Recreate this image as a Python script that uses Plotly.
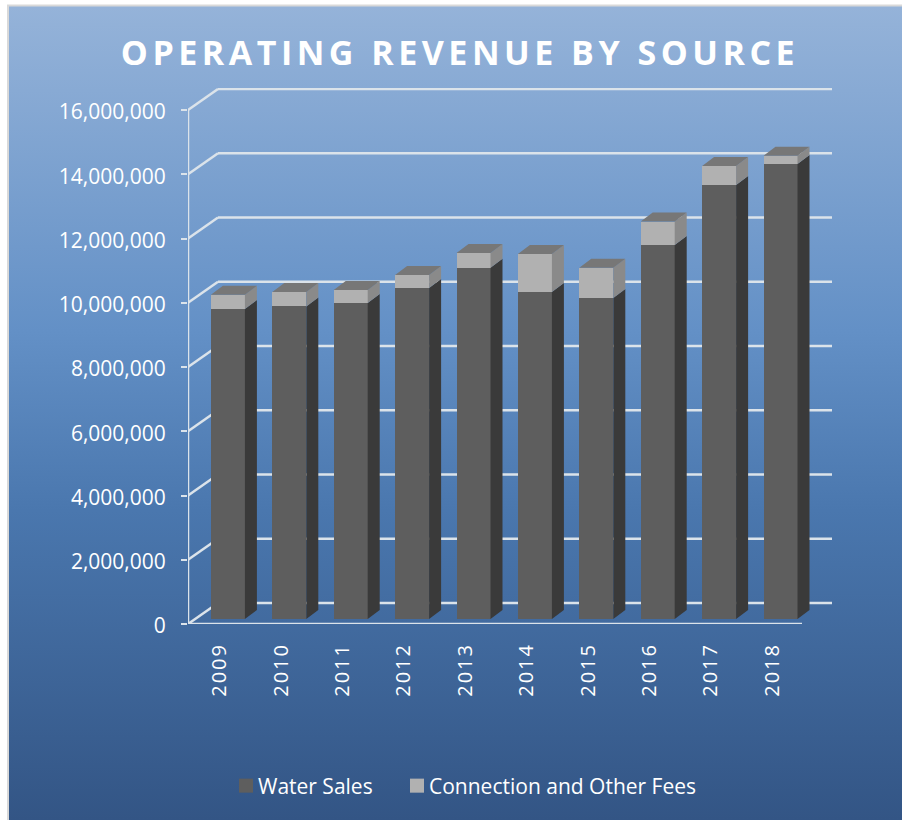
import base64
import plotly.graph_objects as go

years = [2009, 2010, 2011, 2012, 2013, 2014, 2015, 2016, 2017, 2018]
water_sales = [9650000, 9730000, 9840000, 10300000, 10930000, 10180000, 9990000, 11640000, 13510000, 14160000]
other_fees = [440000, 450000, 400000, 410000, 460000, 1180000, 940000, 730000, 590000, 260000]
y_ticks = [0, 2000000, 4000000, 6000000, 8000000, 10000000, 12000000, 14000000, 16000000]

W, H = 902, 820
L, R, T, B = 188, 832, 88, 624
PX_X = 61.4
PX_Y = 514 / 16e6
xr = [2008.5, 2008.5 + (R - L) / PX_X]
yr = [0, (B - T) / PX_Y]
wall_dx, wall_dy = 30 / PX_X, 21 / PX_Y
bar_dx, bar_dy = 12 / PX_X, 9 / PX_Y
bar_base = 5 / PX_Y
bar_w = 34 / PX_X
bar_off = -0.127

LINE = "#dbe3ea"
C_WATER, C_WATER_SIDE = "#5e5e5e", "#3a3a3a"
C_FEE, C_FEE_SIDE, C_TOP = "#b1b1b1", "#8a8a8a", "#777777"

svg = (f'<svg xmlns="http://www.w3.org/2000/svg" width="{W}" height="{H}" preserveAspectRatio="none">'
       '<defs><linearGradient id="g" x1="0" y1="0" x2="0" y2="1">'
       '<stop offset="0" stop-color="#95b3d9"/><stop offset="0.4" stop-color="#6390c6"/>'
       '<stop offset="0.62" stop-color="#4a77ae"/><stop offset="1" stop-color="#335585"/>'
       f'</linearGradient></defs><rect width="{W}" height="{H}" fill="url(#g)"/></svg>')
src = "data:image/svg+xml;base64," + base64.b64encode(svg.encode()).decode()


def polys(rows):
    xs, ys = [], []
    for px, py in rows:
        xs += px + [None]
        ys += py + [None]
    return xs, ys


water_side, fee_side, tops = [], [], []
for yr_, w, f in zip(years, water_sales, other_fees):
    x0 = yr_ + bar_off
    x1 = x0 + bar_w
    y0, y1, y2 = bar_base, bar_base + w, bar_base + w + f
    water_side.append(([x1, x1, x1 + bar_dx, x1 + bar_dx], [y0, y1, y1 + bar_dy, y0 + bar_dy]))
    fee_side.append(([x1, x1, x1 + bar_dx, x1 + bar_dx], [y1, y2, y2 + bar_dy, y1 + bar_dy]))
    tops.append(([x0, x1, x1 + bar_dx, x0 + bar_dx], [y2, y2, y2 + bar_dy, y2 + bar_dy]))

fig = go.Figure()
fig.add_bar(x=years, y=water_sales, base=[bar_base] * len(years), name="Water Sales",
            width=bar_w, offset=bar_off, marker=dict(color=C_WATER, line_width=0))
fig.add_bar(x=years, y=other_fees, base=[bar_base + w for w in water_sales],
            name="Connection and Other Fees",
            width=bar_w, offset=bar_off, marker=dict(color=C_FEE, line_width=0))
for rows, col in ((water_side, C_WATER_SIDE), (fee_side, C_FEE_SIDE), (tops, C_TOP)):
    xs, ys = polys(rows)
    fig.add_scatter(x=xs, y=ys, mode="lines", fill="toself", fillcolor=col,
                    line=dict(width=0, color=col), showlegend=False, hoverinfo="skip")

shapes = []
line = dict(color=LINE, width=2.5)
right_front = xr[0] + (802 - L) / PX_X
for v in y_ticks:
    shapes.append(dict(type="line", layer="below", x0=xr[0], y0=v, x1=xr[0] + wall_dx, y1=v + wall_dy, line=line))
    shapes.append(dict(type="line", layer="below", x0=xr[0] + wall_dx, y0=v + wall_dy, x1=xr[1], y1=v + wall_dy, line=line))
shapes.append(dict(type="line", layer="below", x0=xr[0], y0=0, x1=xr[0], y1=y_ticks[-1], line=line))
shapes.append(dict(type="line", layer="below", x0=xr[0], y0=0, x1=right_front, y1=0, line=line))
shapes.append(dict(type="rect", layer="below", xref="paper", yref="paper",
                   x0=(8 - L) / (R - L), x1=(W + 4 - L) / (R - L),
                   y0=(B - H - 4) / (B - T), y1=(B - 5.5) / (B - T),
                   line=dict(color="#d9d9d9", width=2), fillcolor="rgba(0,0,0,0)"))

fig.update_layout(
    width=W, height=H, autosize=False,
    margin=dict(l=L, r=W - R, t=T, b=H - B, pad=0),
    paper_bgcolor="white", plot_bgcolor="rgba(0,0,0,0)",
    barmode="overlay", bargap=0,
    font=dict(family="Open Sans", color="white", size=20),
    title=dict(text="<b>OPERATING REVENUE BY SOURCE</b>", x=460 / W, xanchor="center",
               y=1 - 53 / H, yanchor="middle", font=dict(size=34, family="Open Sans", color="white")),
    xaxis=dict(range=xr, tickmode="array", tickvals=years, ticktext=[str(y) for y in years],
               tickangle=-90, showgrid=False, zeroline=False, showline=False, ticks="",
               ticklabelstandoff=14, ticklabelshift=1, tickfont=dict(size=20, color="white")),
    yaxis=dict(range=yr, tickmode="array", tickvals=y_ticks, tickformat=",", showgrid=False,
               zeroline=False, showline=False, ticks="outside", ticklen=6, tickcolor=LINE, tickwidth=2,
               ticklabelstandoff=11, ticklabelshift=2, tickfont=dict(size=21, color="white")),
    legend=dict(orientation="h", x=(218 - L) / (R - L), xanchor="left",
                y=(B - 786) / (B - T), yanchor="middle", entrywidth=126, entrywidthmode="pixels",
                bgcolor="rgba(0,0,0,0)", font=dict(size=21, color="white"), traceorder="normal"),
    images=[dict(source=src, xref="paper", yref="paper", x=(8 - L) / (R - L), y=(B - 6) / (B - T),
                 sizex=(W - 8) / (R - L), sizey=(H - 6) / (B - T), xanchor="left", yanchor="top",
                 sizing="stretch", layer="below")],
    shapes=shapes,
)
post = ("document.body.style.margin='0';document.body.style.overflow='hidden';"
        "var s=document.createElement('style');"
        "s.textContent='.gtitle{letter-spacing:4.5px}.xtick text{letter-spacing:2px}"
        ".legendpoints path{transform:translate(28px,0) scale(1.17)!important}"
        ".legend,.legend .scrollbox{clip-path:none!important}';"
        "document.head.appendChild(s);")
fig.write_html("out.html", post_script=post, config={"displayModeBar": False})
